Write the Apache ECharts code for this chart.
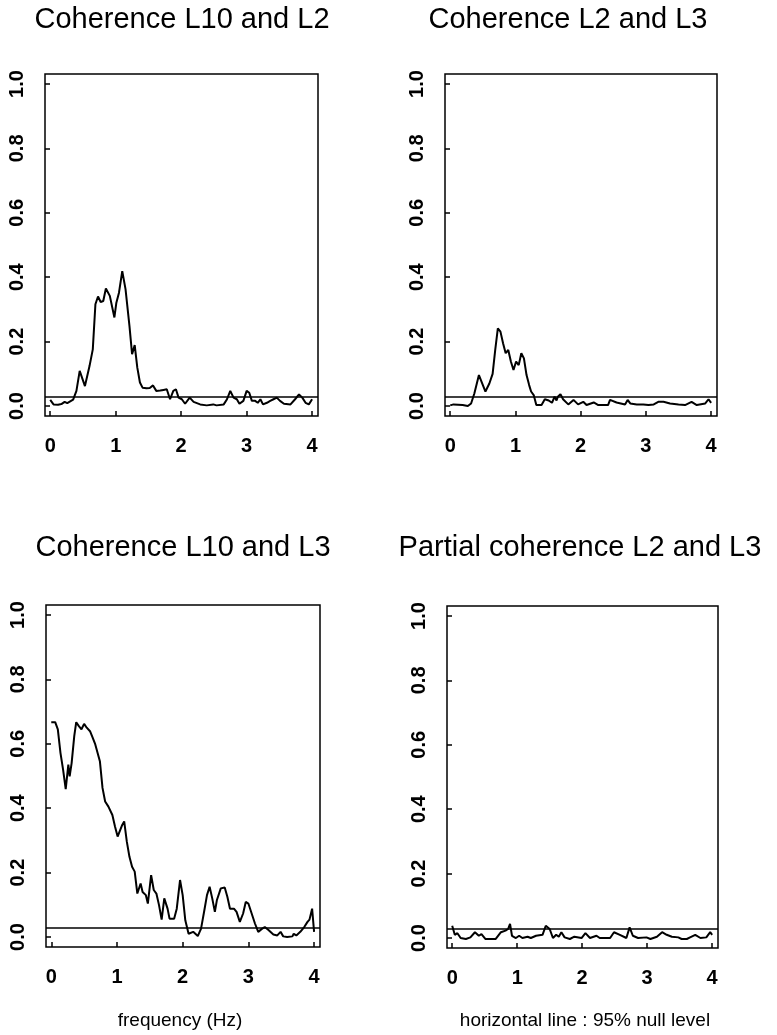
<!DOCTYPE html>
<html>
<head>
<meta charset="utf-8">
<script src="https://cdn.jsdelivr.net/npm/echarts@6/dist/echarts.min.js"></script>
<style>
html,body{margin:0;padding:0;background:#fff;}
#chart{width:777px;height:1035px;}
</style>
</head>
<body>
<div id="chart"></div>
<script>
// ---------- data ----------
const titles = ['Coherence L10 and L2', 'Coherence L2 and L3', 'Coherence L10 and L3', 'Partial coherence L2 and L3'];
const xLabel = 'frequency (Hz)';
const noteLabel = 'horizontal line : 95% null level';
const xTicks = [0, 1, 2, 3, 4];
const yTicks = [0, 0.2, 0.4, 0.6, 0.8, 1.0];
const nullLevel = 0.03;

const p1Freq = [0.00,0.05,0.12,0.17,0.22,0.26,0.29,0.35,0.40,0.45,0.53,0.60,0.65,0.69,0.73,0.77,0.81,0.85,0.91,0.98,1.01,1.05,1.10,1.15,1.21,1.25,1.29,1.33,1.37,1.41,1.47,1.52,1.57,1.62,1.68,1.73,1.78,1.83,1.88,1.92,1.96,2.01,2.06,2.13,2.19,2.29,2.39,2.49,2.54,2.65,2.70,2.75,2.80,2.85,2.89,2.95,3.00,3.04,3.08,3.13,3.17,3.21,3.25,3.31,3.36,3.41,3.46,3.51,3.57,3.67,3.74,3.80,3.85,3.90,3.95,4.00];
const p1Coh  = [0.019,0.005,0.004,0.006,0.013,0.009,0.005,0.020,0.047,0.109,0.062,0.124,0.176,0.316,0.340,0.323,0.326,0.365,0.342,0.275,0.321,0.352,0.419,0.363,0.249,0.161,0.189,0.119,0.073,0.057,0.055,0.056,0.064,0.047,0.048,0.050,0.052,0.021,0.047,0.052,0.026,0.021,0.007,0.026,0.013,0.005,0.002,0.005,0.002,0.005,0.021,0.047,0.026,0.021,0.007,0.016,0.047,0.041,0.016,0.016,0.010,0.021,0.005,0.010,0.016,0.021,0.026,0.016,0.007,0.005,0.021,0.036,0.026,0.010,0.005,0.021];

const p2Freq = [0.00,0.05,0.19,0.27,0.32,0.37,0.44,0.47,0.54,0.60,0.65,0.69,0.73,0.77,0.81,0.85,0.89,0.93,0.97,1.01,1.05,1.09,1.13,1.17,1.21,1.24,1.28,1.32,1.40,1.45,1.51,1.56,1.60,1.63,1.65,1.69,1.73,1.81,1.89,1.96,2.04,2.09,2.20,2.27,2.42,2.45,2.55,2.68,2.72,2.76,2.86,2.96,3.04,3.12,3.19,3.27,3.37,3.50,3.60,3.70,3.78,3.91,3.96,4.00];
const p2Coh  = [0.002,0.005,0.003,0.000,0.008,0.039,0.096,0.093,0.045,0.070,0.100,0.174,0.241,0.231,0.195,0.164,0.174,0.138,0.112,0.138,0.127,0.164,0.148,0.096,0.065,0.045,0.034,0.003,0.003,0.021,0.017,0.010,0.029,0.017,0.029,0.037,0.021,0.005,0.019,0.005,0.013,0.003,0.011,0.003,0.003,0.019,0.011,0.005,0.019,0.008,0.005,0.005,0.003,0.005,0.013,0.013,0.008,0.005,0.003,0.013,0.003,0.008,0.021,0.010];

const p3Freq = [0.00,0.06,0.10,0.14,0.18,0.22,0.26,0.28,0.31,0.35,0.38,0.42,0.46,0.50,0.54,0.59,0.63,0.67,0.70,0.74,0.78,0.82,0.87,0.93,0.97,1.01,1.04,1.08,1.11,1.15,1.19,1.23,1.27,1.31,1.36,1.39,1.44,1.47,1.52,1.56,1.60,1.64,1.68,1.72,1.77,1.80,1.87,1.91,1.96,2.00,2.04,2.09,2.16,2.23,2.28,2.33,2.37,2.41,2.45,2.49,2.52,2.58,2.64,2.68,2.72,2.78,2.82,2.87,2.92,2.96,3.00,3.05,3.10,3.15,3.21,3.25,3.31,3.38,3.44,3.49,3.53,3.59,3.67,3.69,3.73,3.79,3.85,3.90,3.93,3.97,4.00];
const p3Coh  = [0.667,0.667,0.645,0.572,0.520,0.459,0.535,0.499,0.540,0.624,0.667,0.655,0.645,0.662,0.650,0.639,0.619,0.598,0.600,0.546,0.463,0.421,0.405,0.379,0.343,0.312,0.307,0.348,0.359,0.296,0.249,0.218,0.203,0.135,0.166,0.140,0.130,0.104,0.192,0.146,0.135,0.099,0.054,0.120,0.088,0.057,0.057,0.088,0.177,0.130,0.052,0.010,0.016,0.003,0.026,0.083,0.130,0.156,0.120,0.078,0.114,0.151,0.154,0.125,0.088,0.088,0.078,0.047,0.073,0.109,0.104,0.073,0.042,0.016,0.026,0.031,0.021,0.008,0.005,0.016,0.002,0.000,0.002,0.010,0.005,0.016,0.031,0.047,0.054,0.088,0.016];

const p4Freq = [0.00,0.04,0.08,0.13,0.21,0.28,0.35,0.41,0.45,0.51,0.57,0.67,0.75,0.82,0.86,0.89,0.92,0.98,1.03,1.08,1.16,1.21,1.29,1.39,1.44,1.50,1.55,1.60,1.64,1.68,1.73,1.81,1.88,1.99,2.05,2.12,2.22,2.27,2.43,2.49,2.58,2.68,2.73,2.78,2.86,2.99,3.05,3.15,3.23,3.30,3.38,3.48,3.53,3.61,3.66,3.74,3.82,3.91,3.97,4.00];
const p4Coh  = [0.038,0.010,0.015,0.000,-0.003,0.002,0.018,0.007,0.012,-0.003,-0.003,-0.003,0.018,0.023,0.028,0.044,0.007,0.000,0.007,0.000,0.004,0.000,0.007,0.010,0.038,0.028,0.000,0.010,0.004,0.018,0.002,-0.003,0.004,0.000,0.015,0.000,0.007,0.000,0.000,0.018,0.010,0.000,0.033,0.007,0.000,0.002,-0.003,0.004,0.018,0.010,0.004,0.002,-0.003,-0.003,0.002,0.010,0.000,0.002,0.018,0.010];

// ---------- layout ----------
const panels = [
  {freq: p1Freq, coh: p1Coh, left: 45,  top: 74,  width: 273, height: 342, tx: 182, ty: 20},
  {freq: p2Freq, coh: p2Coh, left: 445, top: 74,  width: 272, height: 342, tx: 568, ty: 20},
  {freq: p3Freq, coh: p3Coh, left: 46,  top: 605, width: 274, height: 342, tx: 183, ty: 548},
  {freq: p4Freq, coh: p4Coh, left: 447, top: 606, width: 271, height: 342, tx: 580, ty: 548}
];

const FONT = '"Liberation Sans", Arial, Helvetica, sans-serif';
const chart = echarts.init(document.getElementById('chart'), null, {renderer: 'canvas'});

const grids = [], xAxes = [], yAxes = [], series = [], graphics = [];
panels.forEach((p, i) => {
  grids.push({left: p.left, top: p.top, width: p.width, height: p.height,
    show: true, borderColor: '#000', borderWidth: 1.5, backgroundColor: 'transparent',
    containLabel: false, outerBoundsMode: 'none'});
  xAxes.push({type: 'value', gridIndex: i, min: -0.08, max: 4.09, position: 'bottom',
    axisLine: {show: false, onZero: false},
    axisTick: {show: true, inside: true, length: 5, customValues: xTicks, lineStyle: {color: '#000', width: 1.5}},
    axisLabel: {show: true, customValues: xTicks, margin: 20, color: '#000', fontSize: 20, fontWeight: 'bold', fontFamily: FONT,
      formatter: v => String(v)},
    splitLine: {show: false}});
  yAxes.push({type: 'value', gridIndex: i, min: -0.031, max: 1.031, position: 'left',
    axisLine: {show: false, onZero: false},
    axisTick: {show: true, inside: true, length: 5, customValues: yTicks, lineStyle: {color: '#000', width: 1.5}},
    axisLabel: {show: true, customValues: yTicks, rotate: 90, margin: 18, color: '#000', fontSize: 20, fontWeight: 'bold', fontFamily: FONT,
      formatter: v => Number(v).toFixed(1)},
    splitLine: {show: false}});
  series.push({type: 'line', xAxisIndex: i, yAxisIndex: i,
    data: p.freq.map((f, k) => [f, p.coh[k]]),
    showSymbol: false, symbol: 'none', smooth: false, silent: true,
    lineStyle: {color: '#000', width: 2},
    markLine: {silent: true, symbol: ['none', 'none'], label: {show: false},
      lineStyle: {color: '#000', width: 1.5, type: 'solid'},
      data: [{yAxis: nullLevel}]}});
  graphics.push({type: 'text', x: p.tx, y: p.ty,
    style: {text: titles[i], font: '29px ' + FONT, fill: '#000',
      align: 'center', verticalAlign: 'middle', textAlign: 'center', textVerticalAlign: 'middle'}});
});
graphics.push({type: 'text', x: 180, y: 1021,
  style: {text: xLabel, font: '19px ' + FONT, fill: '#000',
    align: 'center', verticalAlign: 'middle', textAlign: 'center', textVerticalAlign: 'middle'}});
graphics.push({type: 'text', x: 585, y: 1021,
  style: {text: noteLabel, font: '19px ' + FONT, fill: '#000',
    align: 'center', verticalAlign: 'middle', textAlign: 'center', textVerticalAlign: 'middle'}});

chart.setOption({
  animation: false,
  backgroundColor: '#fff',
  grid: grids, xAxis: xAxes, yAxis: yAxes, series: series,
  graphic: graphics
});
</script>
</body>
</html>
